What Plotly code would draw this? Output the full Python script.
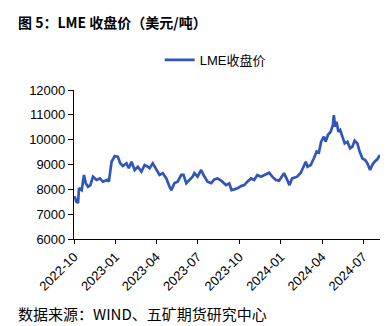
import plotly.graph_objects as go

# LME closing price, USD/t
dates = [
    "2022-10-01", "2022-10-03", "2022-10-06", "2022-10-10", "2022-10-12", "2022-10-18",
    "2022-10-23", "2022-10-27", "2022-11-01", "2022-11-06", "2022-11-12", "2022-11-20",
    "2022-11-27", "2022-12-04", "2022-12-13", "2022-12-17", "2022-12-23", "2022-12-30",
    "2023-01-06", "2023-01-11", "2023-01-17", "2023-01-25", "2023-01-30", "2023-02-05",
    "2023-02-12", "2023-02-19", "2023-02-27", "2023-03-06", "2023-03-13", "2023-03-17",
    "2023-03-24", "2023-04-01", "2023-04-08", "2023-04-15", "2023-04-23", "2023-04-30",
    "2023-05-04", "2023-05-11", "2023-05-18", "2023-05-26", "2023-05-31", "2023-06-06",
    "2023-06-13", "2023-06-20", "2023-06-24", "2023-07-01", "2023-07-09", "2023-07-14",
    "2023-07-23", "2023-07-31", "2023-08-07", "2023-08-14", "2023-08-22", "2023-08-25",
    "2023-09-02", "2023-09-09", "2023-09-14", "2023-09-20", "2023-09-27", "2023-10-05",
    "2023-10-12", "2023-10-19", "2023-10-27", "2023-11-03", "2023-11-10", "2023-11-18",
    "2023-11-25", "2023-12-06", "2023-12-13", "2023-12-21", "2023-12-28", "2024-01-04",
    "2024-01-08", "2024-01-15", "2024-01-20", "2024-01-26", "2024-02-06", "2024-02-14",
    "2024-02-21", "2024-02-25", "2024-02-29", "2024-03-07", "2024-03-14", "2024-03-20",
    "2024-03-25", "2024-03-30", "2024-04-05", "2024-04-09", "2024-04-14", "2024-04-20",
    "2024-04-25", "2024-04-27", "2024-04-30", "2024-05-03", "2024-05-07", "2024-05-11",
    "2024-05-16", "2024-05-21", "2024-05-27", "2024-06-02", "2024-06-07", "2024-06-12",
    "2024-06-18", "2024-06-23", "2024-06-29", "2024-07-05", "2024-07-10", "2024-07-16",
    "2024-07-21", "2024-07-26", "2024-08-01", "2024-08-07",
]
close = [
    7650, 7700, 7500, 7450, 8050, 7970,
    8580, 8250, 8100, 8170, 8510, 8380,
    8440, 8310, 8380, 8310, 9110, 9340,
    9310, 9050, 8940, 9050, 8850, 9110,
    8780, 8910, 8710, 8980, 8910, 8850,
    9050, 8780, 8580, 8650, 8440, 8110,
    7970, 8250, 8310, 8580, 8580, 8250,
    8380, 8510, 8650, 8510, 8780, 8580,
    8310, 8250, 8400, 8440, 8350, 8310,
    8170, 8240, 7970, 8000, 8040, 8130,
    8170, 8310, 8440, 8380, 8580, 8510,
    8580, 8670, 8510, 8380, 8350, 8580,
    8650, 8380, 8170, 8440, 8510, 8670,
    8910, 9110, 8910, 8980, 9250, 9520,
    9480, 9920, 10120, 9920, 10190, 10320,
    10590, 10990, 10520, 10720, 10320, 10390,
    10120, 9850, 9920, 9650, 9720, 9960,
    9850, 9520, 9250, 9180, 9050, 8780,
    8980, 9110, 9210, 9380,
]

series_name = "LME收盘价"
x_ticks = ["2022-10-01", "2023-01-01", "2023-04-01", "2023-07-01",
           "2023-10-01", "2024-01-01", "2024-04-01", "2024-07-01"]
x_tick_text = ["2022-10", "2023-01", "2023-04", "2023-07",
               "2023-10", "2024-01", "2024-04", "2024-07"]
y_ticks = [6000, 7000, 8000, 9000, 10000, 11000, 12000]

fig = go.Figure()
fig.add_trace(go.Scatter(
    x=dates, y=close, mode="lines", name=series_name,
    line=dict(color="#2F56B8", width=2.7),
))

fig.update_layout(
    width=392, height=326,
    margin=dict(l=74, r=12, t=90, b=87),
    paper_bgcolor="white", plot_bgcolor="white",
    font=dict(family="Liberation Sans, Noto Sans CJK SC", size=13, color="#000000"),
    showlegend=True,
    legend=dict(orientation="h", x=0.28, xanchor="left", y=(239 - 60) / 149, yanchor="middle",
                font=dict(size=13, family="Liberation Sans, Noto Sans CJK SC"),
                itemwidth=30, bgcolor="rgba(0,0,0,0)"),
    xaxis=dict(
        range=["2022-10-01", "2024-08-07"],
        tickmode="array", tickvals=x_ticks, ticktext=x_tick_text,
        tickangle=-45, ticks="outside", ticklen=4, tickcolor="#000",
        showline=True, linecolor="#000", linewidth=1.2,
        showgrid=False, zeroline=False,
        tickfont=dict(size=13),
    ),
    yaxis=dict(
        range=[6000, 12000],
        tickmode="array", tickvals=y_ticks, tickformat="d",
        ticks="outside", ticklen=5, tickcolor="#000",
        showline=True, linecolor="#000", linewidth=1.2,
        showgrid=False, zeroline=False,
        tickfont=dict(size=13),
    ),
)

fig.add_annotation(
    text="<b>图 5：LME 收盘价（美元/吨）</b>",
    xref="paper", yref="paper", x=-58/306, y=(239-22)/149,
    xanchor="left", yanchor="middle", showarrow=False,
    font=dict(size=14, family="Noto Sans CJK SC", color="#000"),
)
fig.add_annotation(
    text="数据来源：WIND、五矿期货研究中心",
    xref="paper", yref="paper", x=-58/306, y=(239-313)/149,
    xanchor="left", yanchor="middle", showarrow=False,
    font=dict(size=15, family="Noto Sans CJK SC", color="#000"),
)

fig.write_html("out.html")
